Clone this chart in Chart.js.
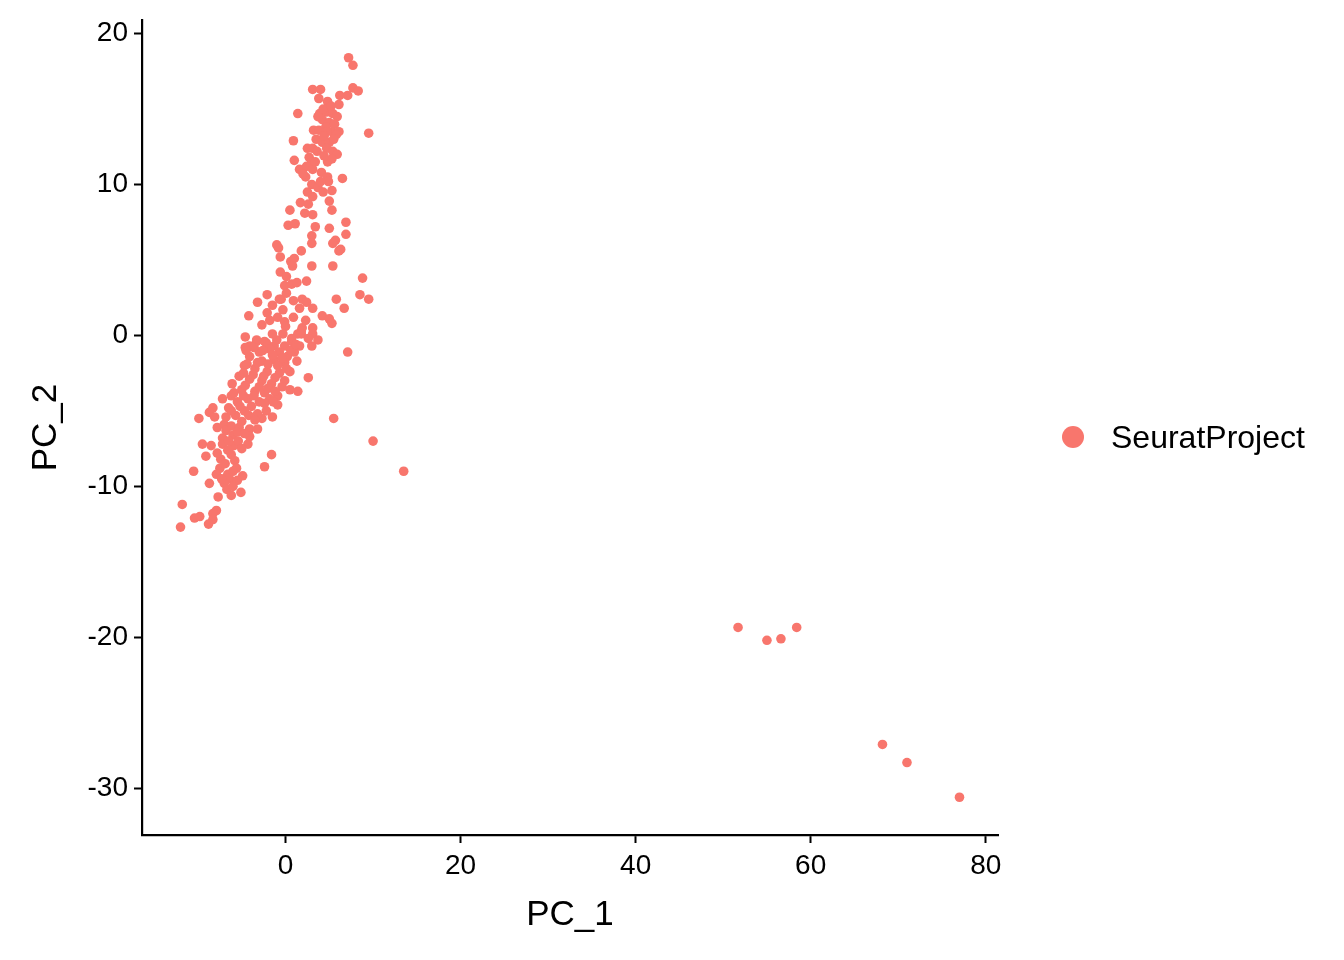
<!DOCTYPE html>
<html>
<head>
<meta charset="utf-8">
<script src="https://cdn.jsdelivr.net/npm/chart.js@4.4.1/dist/chart.umd.min.js"></script>
<style>
  body { margin: 0; background: #fff; }
  #wrap { position: relative; width: 1344px; height: 960px; }
  #legend {
    position: absolute; left: 1062px; top: 416px; height: 42px;
    display: flex; align-items: center;
    font-family: "Liberation Sans", Arial, sans-serif; font-size: 32px; color: #000;
  }
  #legend .dot { width: 22px; height: 22px; border-radius: 50%; background: #F8766D; margin-right: 27px; }
</style>
</head>
<body>
<div id="wrap">
  <canvas id="grafico"></canvas>
  <div id="legend"><span class="dot"></span><span id="legendText"></span></div>
</div>
<script>
// Dados (PC_1, PC_2)
const seriesName = "SeuratProject";
const pc1 = [
  7.2, 7.7, 3.1, 4.0, 7.7, 8.3, 3.8, 4.8, 6.2, 7.1, 6.1, 1.4, 3.9, 4.7, 5.4, 5.9, 4.2, 5.0, 5.6, 3.7,
  4.6, 9.5, 3.2, 3.8, 5.3, 6.1, 5.8, 4.7, 0.9, 3.5, 4.2, 5.0, 2.5, 3.1, 4.7, 5.4, 5.9, 1.0, 2.7, 3.0,
  4.8, 5.3, 1.6, 2.4, 3.1, 4.1, 2.3, 4.8, 4.9, 6.5, 3.0, 3.7, 5.3, 3.1, 1.7, 2.6, 5.0, 0.5, 5.3, 2.2,
  3.1, 6.9, 0.3, 1.1, 3.4, 5.0, 6.9, 3.0, 3.0, 5.7, 5.4, -1.0, -0.8, 1.8, 6.1, 6.3, -0.6, 0.6, 1.0, 0.8,
  3.0, 5.4, -0.6, 0.1, 8.8, -0.1, 0.7, 1.3, 2.4, -2.1, -3.2, -0.5, 1.9, 5.8, 8.5, 9.5,
  0.1, -0.7, -1.5, 2.4, 1.6, 3.1, 6.7, -0.3, -2.1, -4.2, 4.2, 5.0, 5.3, -2.7, -0.1, 0.0, 1.9, 1.8, 1.4, 3.1,
  3.1, 3.7, -0.3, -1.5, -4.6, -4.6, -3.3, -2.2, -1.3, -0.1, 0.7, 1.0, 1.3, 3.0, 7.1, 2.6, 0.5, 1.4, -0.9, -0.9,
  -7.2, -6.2, -6.1, -8.3, -8.7, -8.1, -9.9, -2.2, -1.5, -2.7, 5.5, -7.8, -7.0, -6.2, -5.3, -4.1, -3.2, -7.2, -4.1, -4.3,
  -9.5, -8.5, -7.2, -5.9, 10.0, -9.1, -6.2, -5.8, -5.6, -7.4, -1.6, -2.4, -10.5, 13.5, -7.5, -7.9, -6.6, -6.4, -7.0, -6.7,
  -4.9, -5.5, -8.7, -5.1, -6.2, -7.7, -11.8, -10.4, -9.8, -7.9, -8.3, -8.3, -8.8, -12.0,
  -4.1, -3.0, -1.8, -0.7, 0.2, -4.1, -2.7, -1.3, -0.1, -4.7, -3.5, -2.1, -0.7, 0.5, -5.3, -4.1, -2.7, -1.6, -0.1, -5.0,
  -3.5, -2.4, -4.3, -3.0, -1.8, -5.5, -3.9, -4.7, -3.2, 1.6, -2.4, -3.3, 0.7, 1.8,
  -6.5, -5.7, -6.8, -5.0, -6.0, -5.4, -6.6,
  -4.5, -3.6, -2.6, -1.5, -0.4, 0.6, -4.4, -3.2, -2.0, -0.9, 0.1, -4.8, -3.7, -2.5, -1.2, -0.4,
  -4.6, -3.0, -2.0, -1.2, -5.9, -4.8, -3.6, -2.4, -1.4, -5.2, -4.2, -3.5, -6.2, -5.5,
  -6.8, -4.7, -6.5, -5.0, -7.8, -6.9, -6.0, -7.3, -6.0,
  4.3, 5.2, 4.4, 5.5, 3.6, 4.4, 3.4, 2.0, 4.0, 4.3, 2.5,
  -1.8, -0.9, 0.9, 2.3, 2.6, 1.2, -1.0, 0.9,
  51.7, 55.0, 56.6, 58.4, 68.2, 71.0, 77.0
];
const pc2 = [
  18.4, 17.9, 16.3, 16.3, 16.4, 16.2, 15.7, 15.5, 15.9, 15.9, 15.3, 14.7, 14.7, 14.8, 14.7, 14.5, 14.3, 14.1, 14.0, 14.5,
  13.8, 13.4, 13.6, 13.6, 13.5, 13.5, 13.3, 13.5, 12.9, 13.0, 12.8, 12.8, 12.4, 12.4, 12.4, 12.2, 12.0, 11.6, 11.8, 11.5,
  11.5, 11.7, 11.0, 11.2, 11.0, 10.8, 10.5, 10.5, 10.2, 10.4, 10.0, 9.8, 9.6, 9.2, 8.8, 8.7, 8.9, 8.3, 8.3, 8.1,
  8.0, 7.5, 7.3, 7.4, 7.2, 7.1, 6.7, 6.6, 6.1, 6.3, 6.1, 6.0, 5.8, 5.6, 5.6, 5.7, 5.2, 4.9, 5.1, 4.6,
  4.6, 4.6, 4.2, 3.9, 3.8, 3.3, 3.4, 3.5, 3.6, 2.7, 2.2, 2.4, 2.4, 2.4, 2.7, 2.4,
  2.8, 2.4, 2.0, 2.2, 1.8, 1.8, 1.8, 1.7, 1.5, 1.3, 1.3, 1.1, 0.8, 0.7, 0.9, 0.6, 0.5, 0.3, 0.1, 0.5,
  0.1, -0.3, 0.1, 0.1, -0.1, -0.8, -0.4, -0.5, -0.7, -0.7, -0.4, -1.1, -1.7, -0.7, -1.1, -2.8, -3.6, -3.7, -4.0, -4.6,
  -4.2, -4.0, -3.2, -4.8, -5.1, -5.4, -5.5, -5.0, -5.4, -5.5, -5.5, -6.1, -5.9, -6.0, -6.1, -6.2, -6.2, -6.8, -6.7, -7.2,
  -7.2, -7.3, -7.2, -7.3, -7.0, -8.0, -7.9, -8.3, -8.8, -8.2, -7.9, -8.7, -9.0, -9.0, -8.8, -9.2, -9.2, -9.5, -9.8, -10.2,
  -9.3, -9.6, -9.8, -10.4, -10.6, -10.7, -11.2, -12.1, -12.0, -11.6, -11.8, -12.2, -12.5, -12.7,
  -0.7, -1.1, -0.9, -1.1, -1.4, -1.4, -1.7, -1.6, -1.8, -2.0, -2.2, -2.4, -2.5, -2.4, -2.7, -2.9, -3.0, -3.2, -3.0, -3.6,
  -3.7, -3.8, -4.2, -4.4, -4.2, -4.4, -4.7, -5.0, -5.2, -0.7, -0.4, -0.3, -0.2, 0.1,
  -4.8, -5.3, -5.4, -5.7, -6.6, -7.0, -7.6,
  -1.0, -0.8, -1.0, -1.3, -1.5, -1.0, -1.9, -1.8, -1.9, -2.0, -2.2, -2.5, -2.6, -2.7, -2.8, -3.4,
  -3.3, -3.4, -3.5, -3.7, -3.8, -4.0, -4.0, -4.5, -4.4, -4.7, -5.3, -5.6, -5.0, -6.4,
  -6.3, -6.5, -7.0, -7.5, -7.8, -8.5, -9.0, -9.5, -10.0,
  15.0, 15.2, 13.2, 13.0, 12.2, 11.9, 11.5, 10.7, 10.2, 9.5, 9.5,
  1.0, 1.2, 1.2, 1.0, -0.2, -0.6, -0.3, 2.3,
  -19.35, -20.2, -20.1, -19.35, -27.1, -28.3, -30.6
];
const xTicks = [0, 20, 40, 60, 80];
const yTicks = [-30, -20, -10, 0, 10, 20];

const corPonto = "#F8766D";
const fonte = "'Liberation Sans', Arial, sans-serif";

document.getElementById("legendText").textContent = seriesName;

const ctx = document.getElementById("grafico").getContext("2d");

const eixo = (ticks, titulo, min, max, lado) => ({
  type: "linear",
  position: lado,
  min: min,
  max: max,
  afterBuildTicks: (scale) => { scale.ticks = ticks.map((v) => ({ value: v })); },
  afterFit: (scale) => {
    if (lado === "left") scale.width = 142;
    else scale.height = 125;
  },
  border: { display: true, color: "#000", width: 2.2 },
  grid: { display: true, drawOnChartArea: false, drawTicks: true, tickLength: 8, tickWidth: 2, color: "#000" },
  ticks: { color: "#000", padding: lado === "left" ? 6 : 9, font: { family: fonte, size: 28, lineHeight: 1.0 } },
  title: {
    display: true,
    text: titulo,
    color: "#000",
    font: { family: fonte, size: 35 },
    padding: lado === "left" ? { top: 25, bottom: 0 } : { top: 0, bottom: 24 },
  },
});

const config = {
  type: "scatter",
  data: {
    datasets: [
      {
        label: seriesName,
        data: pc1.map((v, i) => ({ x: v, y: pc2[i] })),
        backgroundColor: corPonto,
        borderWidth: 0,
        pointRadius: 4.8,
        pointHoverRadius: 4.8,
      },
    ],
  },
  options: {
    responsive: true,
    maintainAspectRatio: false,
    devicePixelRatio: 1,
    animation: false,
    layout: { padding: { left: 0, top: 18, right: 346, bottom: 0 } },
    scales: {
      x: eixo(xTicks, "PC_1", -16.4, 81.4, "bottom"),
      y: eixo(yTicks, "PC_2", -33.1, 20.9, "left"),
    },
    plugins: {
      legend: { display: false },
      tooltip: { enabled: false },
    },
  },
};

const chart = new Chart(ctx, config);
</script>
</body>
</html>
